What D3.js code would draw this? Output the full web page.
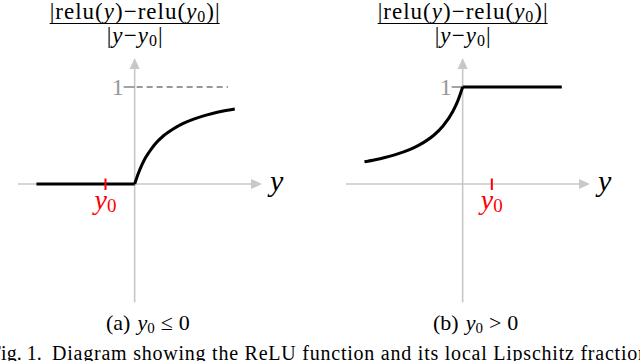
<!DOCTYPE html>
<html><head><meta charset="utf-8">
<script src="https://cdn.jsdelivr.net/npm/d3@7"></script>
<style>html,body{margin:0;padding:0;background:#fff;}svg{display:block;}</style>
</head><body>
<svg id="c" width="640" height="361"></svg>
<script>
// ---- data ----
const panelIds = ["a", "b"];
const captionPrefix = ["(a)", "(b)"];
const captionRel = ["\u2264", ">"];
const captionRhs = ["0", "0"];
const y0Values = [-0.3, 0.3];
// panel (a): flat part then curve
const aFlatX = [-1.01, 0];
const aFlatY = [0, 0];
const aCurveX = [0, 0.02, 0.05, 0.1, 0.15, 0.2, 0.3, 0.4, 0.5, 0.6, 0.7, 0.8, 0.9, 1.03];
const aCurveY = [0, 0.06, 0.14, 0.25, 0.33, 0.40, 0.50, 0.57, 0.625, 0.667, 0.70, 0.727, 0.75, 0.774];
const aDashX = [0, 0.96];
const aDashY = [1, 1];
// panel (b): curve then flat part
const bCurveX = [-1.01, -0.9, -0.8, -0.7, -0.6, -0.5, -0.4, -0.3, -0.2, -0.1, -0.05, 0];
const bCurveY = [0.229, 0.25, 0.273, 0.30, 0.333, 0.375, 0.429, 0.50, 0.60, 0.75, 0.857, 1];
const bFlatX = [0, 1.02];
const bFlatY = [1, 1];
const yTickValue = [1];
const yTickLabel = ["1"];
const xDomain = [-1.2, 1.31];
const yDomainAxis = [-1.22, 1.30];
const figLabel = "Fig. 1.";
const figCaption = "Diagram showing the ReLU function and its local Lipschitz fraction";

// ---- drawing ----
const svg = d3.select("#c");
const gray = "#c8c8c8";
const serif = "'Liberation Serif', 'DejaVu Serif', serif";
const ranges = [[18, 262], [346, 590]];
const captionX = [106, 433];
const y = d3.scaleLinear().domain([0, 1]).range([184, 87]);
const line = (xs, curve) => d3.line().x(d => xs(d[0])).y(d => y(d[1])).curve(curve);
const zip = (a, b) => a.map((v, i) => [v, b[i]]);

panelIds.forEach((id, pi) => {
  const x = d3.scaleLinear().domain(xDomain).range(ranges[pi]);
  const g = svg.append("g");
  const x0 = x(0), yZ = y(0);
  const xEnd = x(xDomain[1]), yTop = y(yDomainAxis[1]), yBot = y(yDomainAxis[0]);
  // axes
  g.append("line").attr("x1", x(xDomain[0])).attr("x2", xEnd - 6).attr("y1", yZ).attr("y2", yZ)
    .attr("stroke", gray).attr("stroke-width", 1.6);
  g.append("path").attr("d", `M${xEnd},${yZ}L${xEnd - 11},${yZ - 5}L${xEnd - 11},${yZ + 5}Z`).attr("fill", gray);
  g.append("line").attr("x1", x0).attr("x2", x0).attr("y1", yBot).attr("y2", yTop + 6)
    .attr("stroke", gray).attr("stroke-width", 1.6);
  g.append("path").attr("d", `M${x0},${yTop}L${x0 - 5},${yTop + 11}L${x0 + 5},${yTop + 11}Z`).attr("fill", gray);
  // y tick "1"
  yTickValue.forEach((v, i) => {
    g.append("line").attr("x1", x0 - 11).attr("x2", x0).attr("y1", y(v)).attr("y2", y(v))
      .attr("stroke", "#999").attr("stroke-width", 1.8);
    g.append("text").attr("x", x0 - 11).attr("y", y(v) + 8).attr("text-anchor", "end")
      .attr("font-family", serif).attr("font-size", 24).attr("fill", "#999").text(yTickLabel[i]);
  });
  if (pi === 0) {
    g.append("path").datum(zip(aDashX, aDashY)).attr("d", line(x, d3.curveLinear))
      .attr("fill", "none").attr("stroke", "#999").attr("stroke-width", 1.8).attr("stroke-dasharray", "6,4")
      .attr("stroke-dashoffset", -12);
    g.append("path").datum(zip(aFlatX, aFlatY)).attr("d", line(x, d3.curveLinear))
      .attr("fill", "none").attr("stroke", "#000").attr("stroke-width", 3);
    g.append("path").datum(zip(aCurveX, aCurveY)).attr("d", line(x, d3.curveMonotoneX))
      .attr("fill", "none").attr("stroke", "#000").attr("stroke-width", 3);
  } else {
    g.append("path").datum(zip(bCurveX, bCurveY)).attr("d", line(x, d3.curveMonotoneX))
      .attr("fill", "none").attr("stroke", "#000").attr("stroke-width", 3).attr("stroke-linejoin", "round");
    g.append("path").datum(zip(bFlatX, bFlatY)).attr("d", line(x, d3.curveLinear))
      .attr("fill", "none").attr("stroke", "#000").attr("stroke-width", 3);
  }
  // red y0 tick
  const xy0 = x(y0Values[pi]);
  g.append("line").attr("x1", xy0).attr("x2", xy0).attr("y1", yZ - 5.5).attr("y2", yZ + 6)
    .attr("stroke", "#ff0000").attr("stroke-width", 2);
  const t0 = g.append("text").attr("x", xy0).attr("y", 209).attr("text-anchor", "middle")
    .attr("font-family", serif).attr("fill", "#ff0000");
  t0.append("tspan").attr("font-style", "italic").attr("font-size", 28).text("y");
  t0.append("tspan").attr("font-size", 19).attr("dy", 3).text("0");
  // axis label y
  g.append("text").attr("x", xEnd + 8).attr("y", yZ + 7).attr("font-family", serif)
    .attr("font-style", "italic").attr("font-size", 30).text("y");
  // title fraction
  const num = g.append("text").attr("x", x0 - 85).attr("y", 18.5)
    .attr("textLength", 170).attr("lengthAdjust", "spacing")
    .attr("font-family", serif).attr("font-size", 23);
  num.append("tspan").text("|relu(");
  num.append("tspan").attr("font-style", "italic").text("y");
  num.append("tspan").text(")\u2212relu(");
  num.append("tspan").attr("font-style", "italic").text("y");
  num.append("tspan").attr("font-size", 16).attr("dy", 3).text("0");
  num.append("tspan").attr("dy", -3).text(")|");
  g.append("line").attr("x1", x0 - 85).attr("x2", x0 + 85).attr("y1", 23.5).attr("y2", 23.5)
    .attr("stroke", "#000").attr("stroke-width", 1);
  const den = g.append("text").attr("x", x0 - 28).attr("y", 43)
    .attr("textLength", 56).attr("lengthAdjust", "spacing")
    .attr("font-family", serif).attr("font-size", 23);
  den.append("tspan").text("|");
  den.append("tspan").attr("font-style", "italic").text("y");
  den.append("tspan").text("\u2212");
  den.append("tspan").attr("font-style", "italic").text("y");
  den.append("tspan").attr("font-size", 16).attr("dy", 3).text("0");
  den.append("tspan").attr("dy", -3).text("|");
  // caption
  const cap = svg.append("text").attr("x", captionX[pi]).attr("y", 330)
    .attr("font-family", serif).attr("font-size", 22);
  cap.append("tspan").text(captionPrefix[pi]);
  cap.append("tspan").attr("dx", 7).attr("font-style", "italic").text("y");
  cap.append("tspan").attr("font-size", 15).attr("dy", 3).text("0");
  cap.append("tspan").attr("dy", -3).attr("dx", 6).text(captionRel[pi]);
  cap.append("tspan").attr("dx", 6).text(captionRhs[pi]);
});

svg.append("text").attr("x", -10).attr("y", 360).attr("font-family", serif).attr("font-size", 20)
  .text(figLabel);
svg.append("text").attr("x", 52).attr("y", 360).attr("font-family", serif).attr("font-size", 20)
  .attr("textLength", 596).attr("lengthAdjust", "spacing").text(figCaption);
</script>
</body></html>
